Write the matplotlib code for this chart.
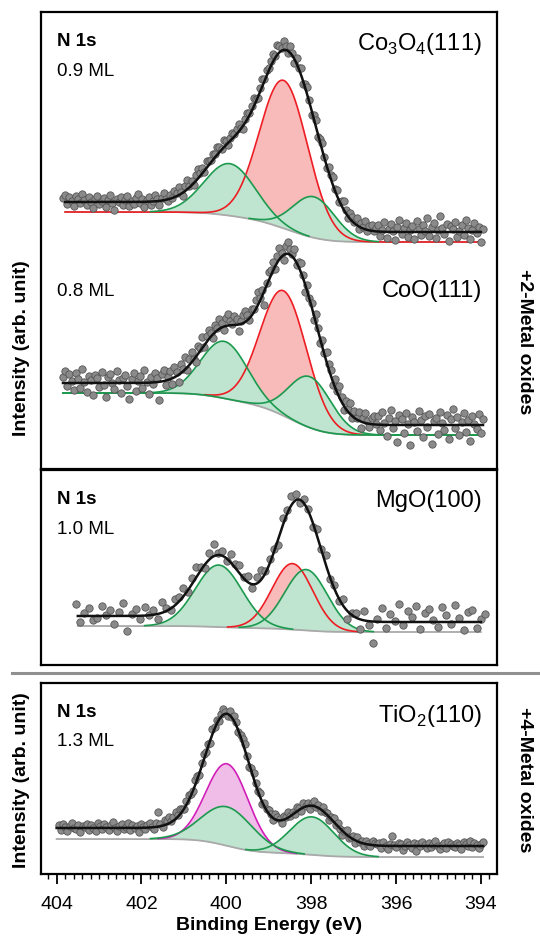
"""
N 1s XPS spectra of adsorbed layers on oxide surfaces (Co3O4, CoO, MgO, TiO2).
Writes out.png (540 x 938 px).
"""

import math

import matplotlib
matplotlib.use("Agg")
import matplotlib.pyplot as plt
import numpy as np
from matplotlib.lines import Line2D
from matplotlib.ticker import FixedLocator, MultipleLocator

plt.rcParams["font.family"] = ["Liberation Sans", "DejaVu Sans"]
plt.rcParams["mathtext.fontset"] = "custom"
plt.rcParams["mathtext.rm"] = "Liberation Sans"
plt.rcParams["mathtext.bf"] = "Liberation Sans:bold"

W, H = 540, 938

# ---------------------------------------------------------------------------
# data (intensity in arb. units, one unit ~ one pixel of the original panel)
# components: centre (eV), height, sigma (eV), kind
# ---------------------------------------------------------------------------
CO3O4_CENTERS = [399.92, 398.65, 397.94]
CO3O4_HEIGHTS = [52, 148, 41]
CO3O4_SIGMAS = [0.60, 0.57, 0.50]
CO3O4_KINDS = ["green", "red", "green"]
CO3O4_BG_LOW, CO3O4_BG_STEP, CO3O4_ENV_OFF = 227, 30, 10
CO3O4_RESID = [
    4, 7, -2, 5, 1, -4, 6, 3, -1, 8, 2, -3, 5, 0, -6, 3, 6, -2, 1, 4,
    -5, 2, 7, -1, -8, 3, 0, 5, -3, 2, 6, -4, 1, -2, 4, 8, -1, 3, -5, 2,
    5, -3, 0, 6, 2, -4, 3, 7, 1, -2, 4, 0, 6,
    3, 8, 2, -3, 5, 9, 1, 4, -2, 6, 10, 3, 5, -1, 7, 4, 2, 6, 3, 8,
    5, 1, 7, 4, -2, 3, 6, 2, 5, 8, 1, -3, 4, 6, 2, 5, 9, 3, -1, 4,
    7, 2, 6, 3,
    5, 8, 2, 10, 6, 3, 9, 4, -2, 7, 3, -4, 5, 1, 6, -3, 4, 8, 2, -5,
    3, 6, -2, 4, 7, 1, -3, 5,
    4, 8, 2, 6, -1, 5, 9, 3, -2, 6, 4, 1, 7, -3, 5, 2, 8, -1, 4, 6,
    0, 3,
    7, -4, 2, 10, -6, 3, 8, 1, -8, 5, 12, -2, 4, 9, -5, 2, 6, -7, 11, 3,
    -3, 7, 1, 14, -4, 5, 9, -6, 2, 16, 4, -2, 8, -9, 6, 3, 10, -5, 1, 7,
    -3, 12, 4, -7, 2, 9, -1, 5, -10, 3,
]

COO_CENTERS = [400.05, 398.65, 398.03]
COO_HEIGHTS = [57, 125, 51]
COO_SIGMAS = [0.55, 0.55, 0.50]
COO_KINDS = ["green", "red", "green"]
COO_BG_LOW, COO_BG_STEP, COO_ENV_OFF = 34, 42, 10
COO_RESID = [
    6, 12, -3, 9, 2, -7, 10, 4, -5, 14, 1, -9, 7, 3, -12, 8, 5, -4, 11, -2,
    -14, 6, 9, 0, -6, 12, 3, -10, 5, 8, -3, -16, 4, 10, -8, 2, 7, -5, 13, 1,
    -11, 6, -2, 9, 4, -18, 7, 11, -4, 3, 8, -6, 10,
    4, -7, 9, 2, 12, -3, 6, 10, 1, -5, 8, 3, 11, -2, 6, 9, 4, -4, 7, 2,
    10, 5, -3, 8, 12, 4, 1, 9, 6, -6, 3, 8, 11, 5, -2, 7, 4, 9, 13, 2,
    6, -14, 3, 8,
    5, 9, -3, 7, 11, 4, -5, 8, 12, 6, 2, 10, -2, 5, 9, 3, -8, 6, 1, 4,
    -6, 9, 3, -4, 7, 2, 10, 5,
    6, -3, 9, 2, 12, 5, -4, 8, 3, 11, -2, 7, 1, 9, -6, 4, 10, 2, -3, 6,
    8, 1,
    9, -5, 13, 2, -11, 7, 15, -3, 4, -17, 10, 6, -8, 12, 1, -20, 8, 3, -6, 14,
    5, -12, 9, -2, 11, -19, 4, 7, -9, 13, 2, -5, 10, -14, 6, 16, -3, 8, -10, 3,
    12, -7, 5, -16, 9, 1, -4, 11, -8, 6,
]

MGO_CENTERS = [400.18, 398.44, 398.12]
MGO_HEIGHTS = [62, 66, 61]
MGO_SIGMAS = [0.55, 0.48, 0.50]
MGO_KINDS = ["green", "red", "green"]
MGO_BG_LOW, MGO_BG_STEP, MGO_ENV_OFF = 33, 6, 10
MGO_RESID = [
    12, -6, 3, 8, -4, -2, 10, 1, 6, -8, 4, 13, -15, 2, 7, -3, 9, 0, 5, -5,
    11, 3, -1, 6,
    4, 8, -2, 6, 10, 3, -4, 7, 12, 2, 5, -3, 9, 4, 8, 1, 6,
    -4, 7, 10, 2, 5, 3, -6, 8, 4, 9, 6, -3, 5, 2, -4, 7, 1, 9, -2, 4,
    -3, 6, -8, 2, 5, -10, 9, -4, -21, 3, 14, -6, 8, 1, 18, -3, 11, 5, 16, -7,
    9, 13, 2, -5, 15, 7, -2, 17, 4, -8, 10, 12, -6, 3, 8,
]

TIO2_CENTERS = [399.98, 399.98, 397.98]
TIO2_HEIGHTS = [82, 39, 38]
TIO2_SIGMAS = [0.50, 0.60, 0.52]
TIO2_KINDS = ["magenta", "green", "green"]
TIO2_BG_LOW, TIO2_BG_STEP, TIO2_ENV_OFF = 17, 18, 11
TIO2_RESID = [
    3, -2, 4, 1, -3, 2, 5, 0, -1, 3, -4, 2, 1, 4, -2, 3, 0, -3, 5, 2,
    -1, 4, 1, -2, 3, 6, 0, -3, 2, 4, -1, 1, 5, -2, 3, 0, 2, -4, 4, 1,
    -1, 3, 5, 0, -2, 4, 15, 2, -1, 5, 3, 6, 1,
    4, 7, 2, 5, 3, -1, 4, 6, 2, 0, 5, 3, -2, 4, 6, 1, 3, -3, 5, 2,
    4, -1, 3, 6, 2, -2, 4, 1, 5, 3, -1, 2, 4, 6, 1, -3, 3, 5, 2, 0,
    4, -2, 3, 1,
    4, 2, -2, 5, 3, 1, -3, 4, 2, 6, 0, 3, -1, 5, 2, -2, 4, 1, 3, -3,
    2, 5, 0, 3, -2, 4, 1, 2,
    -3, 2, 4, -1, 3, 0, -4, 2, 5, -2, 1, 3, -3, 4, 0, 2, -2, 3, 1, -1,
    4, 2,
    1, 3, -2, 4, 0, -3, 2, 10, 1, -1, 3, 2, -4, 0, 4, 1, -2, 3, -5, 2,
    0, 4, 1, -2, 3, -1, 2, 5, 0, -3, 1, 3, -2, 4, 2, 0, -1, 3, 1, -3,
    4, 2, 0, 5, -1, 3, 1, -2, 2, 4,
]

X_TICKS = [404, 402, 400, 398, 396, 394]

LINE = {"green": "#1b9a4e", "red": "#ee1d23", "magenta": "#d11fb8"}
FILL = {"green": "#bfe4cf", "red": "#f9baba", "magenta": "#f0bde8"}
BG_COLOR = "#a9a9a9"


def spectrum(centers, heights, sigmas, kinds, low, step, off, resid,
             fit_range, pts_range, full_kind=None):
    return dict(centers=centers, heights=heights, sigmas=sigmas, kinds=kinds,
                low=low, step=step, off=off, resid=resid,
                fit_range=fit_range, pts_range=pts_range, full_kind=full_kind)


def gauss(E, c, h, s):
    return h * np.exp(-0.5 * ((E - c) / s) ** 2)


_erf = np.vectorize(math.erf)


def shirley(E, sp):
    """Shirley-type step: follows the integrated peak area from the low-BE side."""
    area = sum(h * s for h, s in zip(sp["heights"], sp["sigmas"]))
    cum = sum(h * s * 0.5 * (1 + _erf((E - c) / (s * math.sqrt(2))))
              for c, h, s in zip(sp["centers"], sp["heights"], sp["sigmas"]))
    return sp["low"] + sp["step"] * cum / area


def envelope(E, sp):
    peaks = sum(gauss(E, c, h, s) for c, h, s in
                zip(sp["centers"], sp["heights"], sp["sigmas"]))
    return shirley(E, sp) + sp["off"] + peaks


def draw_spectrum(ax, sp):
    E = np.linspace(*sp["fit_range"], 900)
    bg = shirley(E, sp)
    comps = [gauss(E, c, h, s) for c, h, s in
             zip(sp["centers"], sp["heights"], sp["sigmas"])]
    order = sorted(range(len(comps)), key=lambda i: sp["kinds"][i] == "green")
    for i in order:
        kind = sp["kinds"][i]
        ax.fill_between(E, bg, bg + comps[i], color=FILL[kind], lw=0, zorder=1)
    ax.plot(E, bg, color=BG_COLOR, lw=1.3, zorder=2)
    for i in order:
        kind = sp["kinds"][i]
        y = bg + comps[i]
        if kind != sp["full_kind"]:
            y = np.where(comps[i] > 0.4, y, np.nan)
        ax.plot(E, y, color=LINE[kind], lw=1.2, zorder=3)

    Ep = np.linspace(*sp["pts_range"], len(sp["resid"]))
    yp = envelope(Ep, sp) + np.array(sp["resid"])
    ax.scatter(Ep, yp, s=28, facecolor="#8a8a8a", edgecolor="#555555",
               linewidth=0.6, zorder=4)
    ax.plot(E, envelope(E, sp), color="#111111", lw=1.8, zorder=5)


def fr(x, y):
    return x / W, 1 - y / H


def add_axes(fig, top, bottom, ymax):
    left, right = 40.5, 497
    ax = fig.add_axes([left / W, 1 - bottom / H, (right - left) / W, (bottom - top) / H])
    ax.set_xlim(404.38, 393.62)
    ax.set_ylim(0, ymax)
    for s in ax.spines.values():
        s.set_linewidth(1.6)
    ax.set_yticks([])
    ax.tick_params(axis="x", which="both", bottom=False, labelbottom=False)
    return ax


spectra_top = [
    spectrum(CO3O4_CENTERS, CO3O4_HEIGHTS, CO3O4_SIGMAS, CO3O4_KINDS,
             CO3O4_BG_LOW, CO3O4_BG_STEP, CO3O4_ENV_OFF, CO3O4_RESID,
             (403.8, 394.0), (403.85, 393.95), full_kind="red"),
    spectrum(COO_CENTERS, COO_HEIGHTS, COO_SIGMAS, COO_KINDS,
             COO_BG_LOW, COO_BG_STEP, COO_ENV_OFF, COO_RESID,
             (403.85, 393.95), (403.85, 393.95), full_kind="green"),
]
spec_mgo = spectrum(MGO_CENTERS, MGO_HEIGHTS, MGO_SIGMAS, MGO_KINDS,
                    MGO_BG_LOW, MGO_BG_STEP, MGO_ENV_OFF, MGO_RESID,
                    (403.5, 394.0), (403.55, 393.9))
spec_tio2 = spectrum(TIO2_CENTERS, TIO2_HEIGHTS, TIO2_SIGMAS, TIO2_KINDS,
                     TIO2_BG_LOW, TIO2_BG_STEP, TIO2_ENV_OFF, TIO2_RESID,
                     (404.0, 393.95), (403.95, 393.95))

fig = plt.figure(figsize=(W / 100, H / 100), dpi=100)

ax_top = add_axes(fig, 12, 469, 457)
for sp in spectra_top:
    draw_spectrum(ax_top, sp)

ax_mgo = add_axes(fig, 470, 665, 195)
draw_spectrum(ax_mgo, spec_mgo)

ax_ti = add_axes(fig, 683, 874, 191)
draw_spectrum(ax_ti, spec_tio2)
ax_ti.xaxis.set_major_locator(FixedLocator(X_TICKS))
ax_ti.xaxis.set_minor_locator(MultipleLocator(0.2))
ax_ti.tick_params(axis="x", which="both", bottom=True, labelbottom=True,
                  direction="out", labelsize=14, pad=9)
ax_ti.tick_params(axis="x", which="major", length=7, width=1.3)
ax_ti.tick_params(axis="x", which="minor", length=3.5, width=1.0)
ax_ti.set_xlabel("Binding Energy (eV)", fontsize=14, fontweight="bold", labelpad=3)

# separator between +2 and +4 oxides
fig.add_artist(Line2D([12 / W, 1], [1 - 673 / H] * 2, color="#909090", lw=2.2,
                      transform=fig.transFigure))

# panel annotations
for y_n1s, y_ml, ml in [(42, 71, "0.9 ML"), (None, 291, "0.8 ML"),
                        (499, 529, "1.0 ML"), (712, 741, "1.3 ML")]:
    if y_n1s is not None:
        fig.text(*fr(57, y_n1s), "N 1s", fontsize=13.5, fontweight="bold", va="center")
    fig.text(*fr(57, y_ml), ml, fontsize=13.5, va="center")

for y, name in [(50, r"Co$_3$O$_4$(111)"), (297, "CoO(111)"),
                (507, "MgO(100)"), (722, r"TiO$_2$(110)")]:
    fig.text(*fr(482, y), name, fontsize=17, ha="right", va="baseline")

for y in (348, 780):
    fig.text(*fr(22, y), "Intensity (arb. unit)", fontsize=14, fontweight="bold",
             rotation=90, ha="center", va="center")

fig.text(*fr(524, 342), "+2-Metal oxides", fontsize=14, fontweight="bold",
         rotation=-90, ha="center", va="center")
fig.text(*fr(524, 780), "+4-Metal oxides", fontsize=14, fontweight="bold",
         rotation=-90, ha="center", va="center")

fig.savefig("out.png", dpi=100)
